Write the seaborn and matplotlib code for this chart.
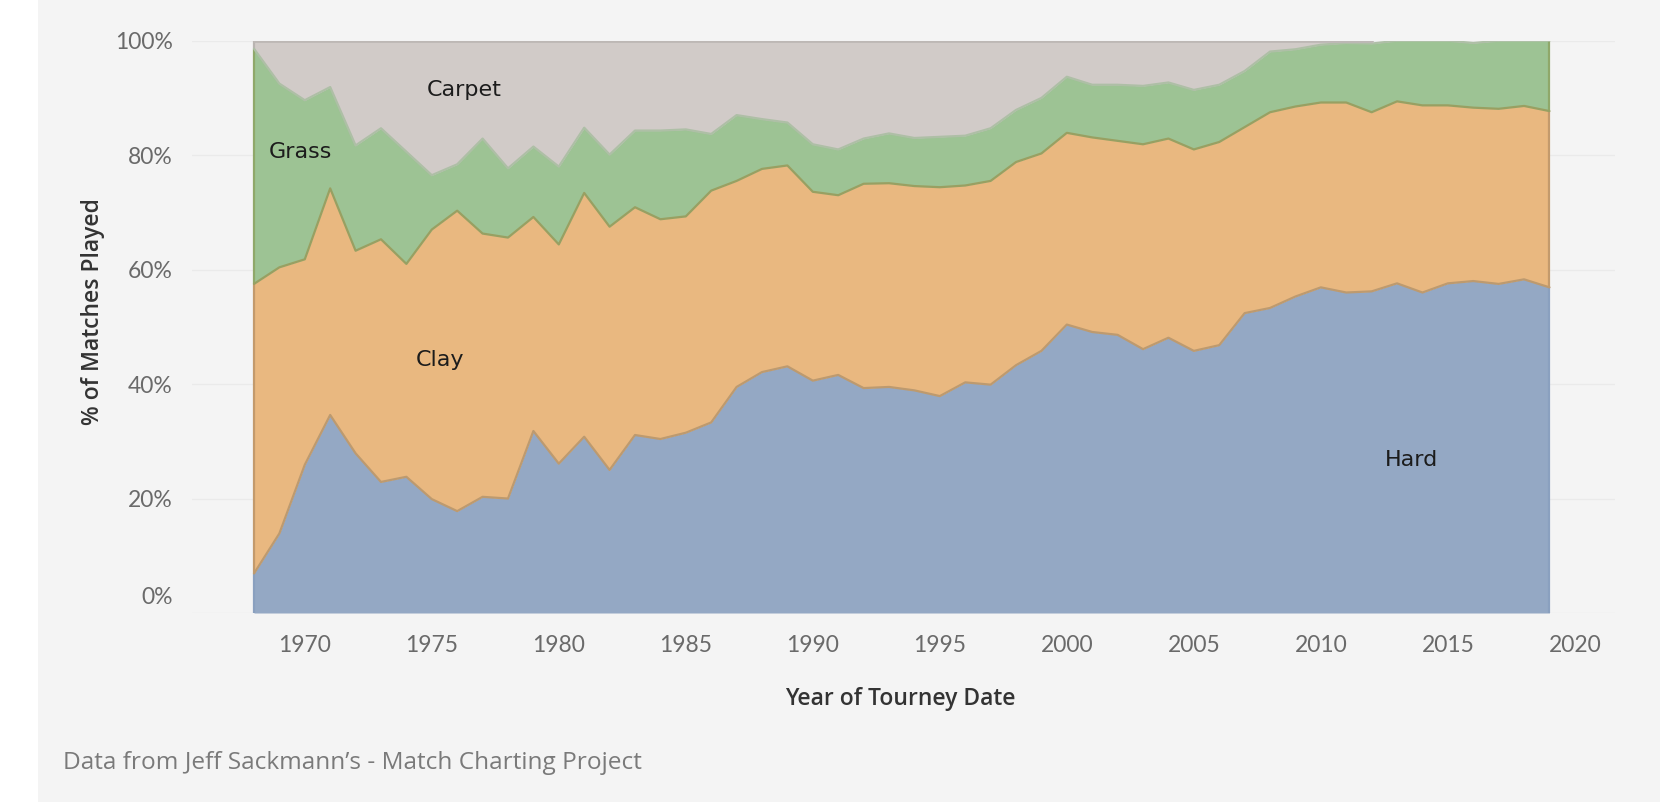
import numpy as np
import pandas as pd
import matplotlib.pyplot as plt
import matplotlib.transforms as mtransforms
from matplotlib.patches import Rectangle
import seaborn as sns


sns.set_theme(style="white")
plt.rcParams['font.family'] = ['DejaVu Sans']

# share of matches played per surface (%)
years = list(range(1968, 2020))
hard = [6.9, 13.9, 25.9, 34.6, 27.9, 22.9, 23.8, 19.9, 17.8, 20.3,
        20.0, 31.8, 26.1, 30.8, 25.0, 31.1, 30.4, 31.5, 33.3, 39.5,
        42.1, 43.1, 40.6, 41.6, 39.3, 39.5, 38.9, 37.9, 40.3, 39.9,
        43.3, 45.8, 50.4, 49.1, 48.6, 46.1, 48.1, 45.8, 46.8, 52.4,
        53.3, 55.3, 56.9, 56.0, 56.2, 57.6, 56.0, 57.6, 58.0, 57.5,
        58.3, 56.9]
clay = [50.6, 46.5, 35.9, 39.6, 35.4, 42.4, 37.2, 47.1, 52.5, 46.0,
        45.6, 37.4, 38.3, 42.6, 42.5, 39.8, 38.4, 37.8, 40.5, 36.0,
        35.5, 35.1, 33.0, 31.4, 35.7, 35.6, 35.7, 36.5, 34.4, 35.6,
        35.5, 34.5, 33.5, 34.0, 33.9, 35.8, 34.8, 35.2, 35.5, 32.5,
        34.2, 33.2, 32.3, 33.2, 31.3, 31.8, 32.7, 31.1, 30.3, 30.6,
        30.3, 30.8]
grass = [41.1, 32.1, 27.8, 17.7, 18.4, 19.4, 19.6, 9.5, 8.1, 16.6,
         12.1, 12.3, 13.6, 11.4, 12.6, 13.4, 15.5, 15.2, 9.9, 11.5,
         8.7, 7.5, 8.3, 8.0, 7.9, 8.7, 8.4, 8.8, 8.7, 9.2,
         9.1, 9.7, 9.8, 9.2, 9.8, 10.2, 9.8, 10.4, 10.0, 9.8,
         10.6, 10.0, 10.1, 10.4, 12.0, 10.6, 11.3, 11.3, 11.3, 11.9,
         11.4, 12.3]
carpet = [1.4, 7.5, 10.4, 8.1, 18.3, 15.3, 19.4, 23.5, 21.6, 17.1,
          22.3, 18.5, 22.0, 15.2, 19.9, 15.7, 15.7, 15.5, 16.3, 13.0,
          13.7, 14.3, 18.1, 19.0, 17.1, 16.2, 17.0, 16.8, 16.6, 15.3,
          12.1, 10.0, 6.3, 7.7, 7.7, 7.9, 7.3, 8.6, 7.7, 5.3,
          1.9, 1.5, 0.7, 0.4, 0.5, 0.0, 0.0, 0.0, 0.4, 0.0,
          0.0, 0.0]

surfaces = ['Hard', 'Clay', 'Grass', 'Carpet']
fill_colors = ['#94a8c4', '#e9b880', '#9dc394', '#d1cbc8']
edge_colors = ['#8aa0bf', '#c39a6c', '#8fa86a', '#b9b4b1']

df = pd.DataFrame({'Year': years, 'Hard': hard, 'Clay': clay,
                   'Grass': grass, 'Carpet': carpet})

bg = '#f4f4f4'
fig = plt.figure(figsize=(16.6, 8.02), dpi=100, facecolor=bg)
ax = fig.add_axes([192 / 1660, 1 - 613 / 802, 1423 / 1660, 572.3 / 802])
ax.set_facecolor(bg)
fig.patches.append(Rectangle((0, 0), 38 / 1660, 1, transform=fig.transFigure,
                             facecolor='white', edgecolor='none', zorder=-1))

# stacked areas
base = np.zeros(len(df))
for name, fc, ec in zip(surfaces, fill_colors, edge_colors):
    top = base + df[name].to_numpy()
    mask = df[name].to_numpy() > 0
    if name == 'Carpet':
        mask = mask | np.r_[False, mask[:-1]]
        mask[df['Year'] > 2012] = df[name].to_numpy()[df['Year'] > 2012] > 0
    ax.fill_between(df['Year'], base, top, where=mask if name == 'Carpet' else None,
                    color=fc, linewidth=0, zorder=2)
    ax.vlines([df['Year'].iloc[0], df['Year'].iloc[-1]], base[[0, -1]], top[[0, -1]],
              color=ec, linewidth=1.6, zorder=3)
    base = top

# boundary lines between layers
cum = df[surfaces].cumsum(axis=1)
line_colors = ['#bd9a6f', '#98a062', '#aebfa6']
for name, lc in zip(surfaces[:3], line_colors):
    sns.lineplot(x=df['Year'], y=cum[name], color=lc, linewidth=1.6, ax=ax, zorder=4)
top_carpet = df['Year'] <= 2012
sns.lineplot(x=df['Year'][top_carpet], y=cum['Carpet'][top_carpet], color='#bdb8b5',
             linewidth=2, ax=ax, zorder=4)

ax.set_xlim(1965.56, 2021.58)
ax.set_ylim(0, 100)
ax.set_xticks(range(1970, 2021, 5))
ax.set_yticks(range(0, 101, 20))
ax.set_yticklabels([f'{v}%' for v in range(0, 101, 20)])
ax.grid(axis='y', color='#eaeaea', linewidth=1, zorder=0)
ax.set_axisbelow(True)
sns.despine(ax=ax, left=True, bottom=True)
ax.tick_params(axis='both', length=0, labelcolor='#6a6a6a', labelsize=16.5)
ax.tick_params(axis='x', pad=16)
ax.tick_params(axis='y', pad=14)
for lab in ax.get_xticklabels() + ax.get_yticklabels():
    lab.set_family(['Lato', 'DejaVu Sans'])
    lab.set_fontweight('normal')

# Tableau nudges the bottom label up inside the pane
lab0 = ax.yaxis.get_major_ticks()[0].label1
lab0.set_transform(lab0.get_transform() +
                   mtransforms.ScaledTranslation(0, 0.17, fig.dpi_scale_trans))

ax.set_xlabel('Year of Tourney Date', fontsize=16.5, fontweight='semibold',
              color='#333333', family=['Open Sans', 'DejaVu Sans'])
ax.set_ylabel('% of Matches Played', fontsize=16.5, fontweight='semibold',
              color='#333333', family=['Open Sans', 'DejaVu Sans'])
ax.xaxis.set_label_coords(0.498, -0.13)
ax.yaxis.set_label_coords(-0.061, 0.526)

# in-chart surface labels
labels = {'Carpet': (1976.27, 91.4), 'Grass': (1969.81, 80.6),
          'Clay': (1975.32, 44.2), 'Hard': (2013.58, 26.7)}
for text, (lx, ly) in labels.items():
    ax.text(lx, ly, text, fontsize=16, color='#1c1c1c', ha='center',
            va='center', zorder=5)

fig.text(63 / 1660, 1 - 763 / 802, 'Data from Jeff Sackmann\u2019s - Match Charting Project',
         fontsize=17.6, color='#7a7a7a', ha='left', va='center',
         family=['Open Sans', 'DejaVu Sans'])

plt.savefig('out.png', dpi=100, facecolor=bg)
